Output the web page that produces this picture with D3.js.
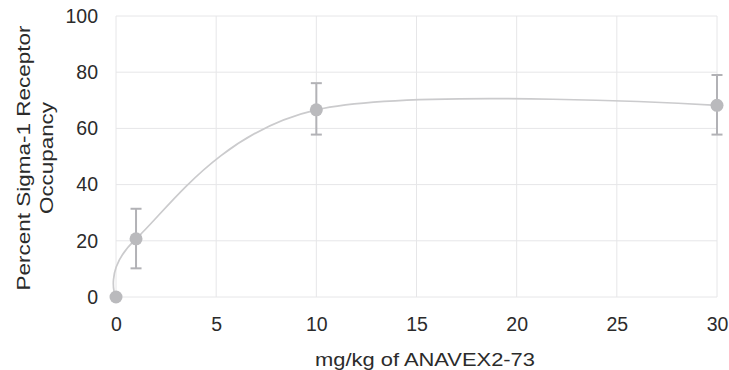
<!DOCTYPE html>
<html>
<head>
<meta charset="utf-8">
<script src="https://cdn.jsdelivr.net/npm/d3@7"></script>
<style>
  body { margin: 0; background: #fff; }
</style>
</head>
<body>
<div id="chart"></div>
<script>
  // dose in mg/kg and measured occupancy (%)
  const doses = [0, 1, 10, 30];
  const occupancy = [0, 20.7, 66.6, 68.2];
  const errUpper = [0, 31.4, 76.1, 79.0];
  const errLower = [0, 10.2, 57.8, 57.8];

  const xTicks = [0, 5, 10, 15, 20, 25, 30];
  const yTicks = [0, 20, 40, 60, 80, 100];

  const xTitle = "mg/kg of ANAVEX2-73";
  const yTitleLines = ["Percent Sigma-1 Receptor", "Occupancy"];

  const width = 729,
    height = 370,
    margin = { top: 16, right: 12, bottom: 73, left: 116 },
    fontFamily = "'Liberation Sans', Arial, sans-serif",
    textColor = "#2b2b2b",
    gridColor = "#e6e6e8",
    lineColor = "#cbcbcd",
    markColor = "#bababd",
    barColor = "#b2b2b6";

  const data = doses.map((d, i) => ({
    x: d,
    y: occupancy[i],
    hi: errUpper[i],
    lo: errLower[i],
  }));

  const x = d3
    .scaleLinear()
    .domain([0, 30])
    .range([margin.left, width - margin.right]);

  const y = d3
    .scaleLinear()
    .domain([0, 100])
    .range([height - margin.bottom, margin.top]);

  const svg = d3
    .select("#chart")
    .append("svg")
    .attr("width", width)
    .attr("height", height)
    .attr("font-family", fontFamily);

  // grid
  svg
    .append("g")
    .attr("stroke", gridColor)
    .attr("stroke-width", 1)
    .selectAll("line")
    .data(xTicks)
    .join("line")
    .attr("x1", (d) => x(d))
    .attr("x2", (d) => x(d))
    .attr("y1", y(0))
    .attr("y2", y(100));

  svg
    .append("g")
    .attr("stroke", gridColor)
    .attr("stroke-width", 1)
    .selectAll("line")
    .data(yTicks)
    .join("line")
    .attr("x1", x(0))
    .attr("x2", x(30))
    .attr("y1", (d) => y(d))
    .attr("y2", (d) => y(d));

  // axes, only the labels are shown
  const xAxis = svg
    .append("g")
    .attr("transform", `translate(0,${y(0)})`)
    .call(d3.axisBottom(x).tickValues(xTicks).tickSize(0).tickPadding(20));

  const yAxis = svg
    .append("g")
    .attr("transform", `translate(${x(0)},0)`)
    .call(d3.axisLeft(y).tickValues(yTicks).tickSize(0).tickPadding(18));

  [xAxis, yAxis].forEach((g) => {
    g.select(".domain").remove();
    g.selectAll("text")
      .attr("font-family", fontFamily)
      .attr("font-size", 19.5)
      .attr("fill", textColor);
  });

  // smoothed line through the points
  const line = d3
    .line()
    .x((d) => x(d.x))
    .y((d) => y(d.y))
    .curve(d3.curveCardinal.tension(0));

  svg
    .append("path")
    .datum(data)
    .attr("fill", "none")
    .attr("stroke", lineColor)
    .attr("stroke-width", 1.7)
    .attr("d", line);

  // error bars
  const bars = svg
    .append("g")
    .attr("stroke", barColor)
    .attr("stroke-width", 2)
    .selectAll("g")
    .data(data.filter((d) => d.hi > d.lo))
    .join("g");

  bars
    .append("line")
    .attr("x1", (d) => x(d.x))
    .attr("x2", (d) => x(d.x))
    .attr("y1", (d) => y(d.hi))
    .attr("y2", (d) => y(d.lo));

  bars
    .selectAll(".cap")
    .data((d) => [
      { x: d.x, v: d.hi },
      { x: d.x, v: d.lo },
    ])
    .join("line")
    .attr("class", "cap")
    .attr("x1", (d) => x(d.x) - 5.5)
    .attr("x2", (d) => x(d.x) + 5.5)
    .attr("y1", (d) => y(d.v))
    .attr("y2", (d) => y(d.v));

  // markers
  svg
    .append("g")
    .selectAll("circle")
    .data(data)
    .join("circle")
    .attr("cx", (d) => x(d.x))
    .attr("cy", (d) => y(d.y))
    .attr("r", 6.5)
    .attr("fill", markColor);

  // axis titles
  svg
    .append("text")
    .attr("x", 425)
    .attr("y", 366)
    .attr("text-anchor", "middle")
    .attr("font-size", 19)
    .attr("fill", textColor)
    .attr("textLength", 220)
    .attr("lengthAdjust", "spacingAndGlyphs")
    .text(xTitle);

  const yTitleLen = [265, 112];
  svg
    .append("g")
    .selectAll("text")
    .data(yTitleLines)
    .join("text")
    .attr("transform", (d, i) => `translate(${30 + i * 23},158) rotate(-90)`)
    .attr("text-anchor", "middle")
    .attr("font-size", 19)
    .attr("fill", textColor)
    .attr("textLength", (d, i) => yTitleLen[i])
    .attr("lengthAdjust", "spacingAndGlyphs")
    .text((d) => d);
</script>
</body>
</html>
